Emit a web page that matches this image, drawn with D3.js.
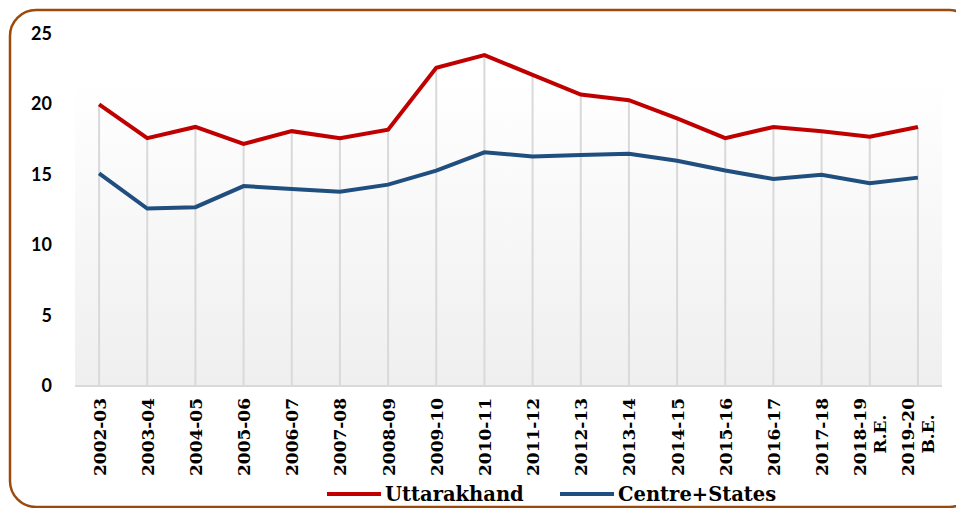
<!DOCTYPE html>
<html lang="en">
  <head>
    <meta charset="UTF-8" />
    <script src="https://d3js.org/d3.v7.min.js"></script>
    <title>Chart</title>
    <style>
      body { margin: 0; background: #fff; }
    </style>
  </head>
  <body>
    <script>
      const years = ["2002-03", "2003-04", "2004-05", "2005-06", "2006-07", "2007-08",
        "2008-09", "2009-10", "2010-11", "2011-12", "2012-13", "2013-14", "2014-15",
        "2015-16", "2016-17", "2017-18", "2018-19|R.E.", "2019-20|B.E."];
      const uttarakhand = [20.0, 17.6, 18.4, 17.2, 18.1, 17.6, 18.2, 22.6, 23.5, 22.1,
        20.7, 20.3, 19.0, 17.6, 18.4, 18.1, 17.7, 18.4];
      const centreStates = [15.1, 12.6, 12.7, 14.2, 14.0, 13.8, 14.3, 15.3, 16.6, 16.3,
        16.4, 16.5, 16.0, 15.3, 14.7, 15.0, 14.4, 14.8];
      const yTicks = [0, 5, 10, 15, 20, 25];
      const seriesNames = ["Uttarakhand", "Centre+States"];
      const colors = ["#c00000", "#1f4e7f"];

      const svg = d3.select("body").append("svg")
        .attr("width", 956).attr("height", 508);

      // frame
      svg.append("rect")
        .attr("x", 10).attr("y", 10)
        .attr("width", 965).attr("height", 497)
        .attr("rx", 26).attr("ry", 26)
        .attr("fill", "none")
        .attr("stroke", "#9c4a0c")
        .attr("stroke-width", 2.5);

      const left = 75, right = 942;
      const x = d3.scaleBand().domain(years).range([left, right]);
      const y = d3.scaleLinear().domain([0, 25]).range([386, 34]);

      const grad = svg.append("defs").append("linearGradient")
        .attr("id", "bg").attr("x1", 0).attr("y1", 0).attr("x2", 0).attr("y2", 1);
      grad.append("stop").attr("offset", 0).attr("stop-color", "#ffffff");
      grad.append("stop").attr("offset", 1).attr("stop-color", "#efefef");

      svg.append("rect")
        .attr("x", left).attr("y", 80)
        .attr("width", right - left).attr("height", y(0) - 80)
        .attr("fill", "url(#bg)");

      const cx = (d) => x(d) + x.bandwidth() / 2;

      // drop lines
      svg.selectAll(".drop").data(years).join("line")
        .attr("class", "drop")
        .attr("x1", cx).attr("x2", cx)
        .attr("y1", (d, i) => y(uttarakhand[i]))
        .attr("y2", y(0))
        .attr("stroke", "#d9d9d9")
        .attr("stroke-width", 2);

      // baseline
      svg.append("line")
        .attr("x1", left).attr("x2", right)
        .attr("y1", y(0)).attr("y2", y(0))
        .attr("stroke", "#d9d9d9").attr("stroke-width", 2);

      // y labels
      svg.selectAll(".ylab").data(yTicks).join("text")
        .attr("class", "ylab")
        .attr("x", 52).attr("y", (d) => y(d) + 6)
        .attr("text-anchor", "end")
        .attr("font-family", "Lato, sans-serif")
        .attr("font-weight", "bold")
        .attr("font-size", 18)
        .attr("fill", "#000")
        .text((d) => d);

      // x labels, rotated
      const xl = svg.selectAll(".xlab").data(years).join("g")
        .attr("class", "xlab")
        .attr("transform", (d) => `translate(${cx(d)},398) rotate(-90)`);
      xl.each(function (d) {
        const parts = d.split("|");
        const g = d3.select(this);
        const n = parts.length;
        let firstLen = 0;
        parts.forEach((p, k) => {
          const t = g.append("text")
            .attr("y", 6.5 + (k - (n - 1) / 2) * 20)
            .attr("text-anchor", k === 0 ? "end" : "middle")
            .attr("font-family", "'DejaVu Serif', serif")
            .attr("font-weight", "bold")
            .attr("font-size", 17)
            .attr("fill", "#000")
            .text(p);
          if (k === 0) firstLen = t.node().getComputedTextLength();
          else t.attr("x", -firstLen / 2 + 3);
        });
      });

      // lines
      const line = d3.line().x((d, i) => cx(years[i])).y((d) => y(d));
      [uttarakhand, centreStates].forEach((s, i) => {
        svg.append("path")
          .datum(s)
          .attr("d", line)
          .attr("fill", "none")
          .attr("stroke", colors[i])
          .attr("stroke-width", 4);
      });

      // legend
      const legX = [327, 560];
      seriesNames.forEach((name, i) => {
        svg.append("line")
          .attr("x1", legX[i]).attr("x2", legX[i] + 54)
          .attr("y1", 494).attr("y2", 494)
          .attr("stroke", colors[i]).attr("stroke-width", 4);
        svg.append("text")
          .attr("x", legX[i] + 58).attr("y", 501)
          .attr("font-family", "'DejaVu Serif', serif")
          .attr("font-weight", "bold")
          .attr("font-size", 19.5)
          .attr("fill", "#000")
          .text(name);
      });
    </script>
  </body>
</html>
